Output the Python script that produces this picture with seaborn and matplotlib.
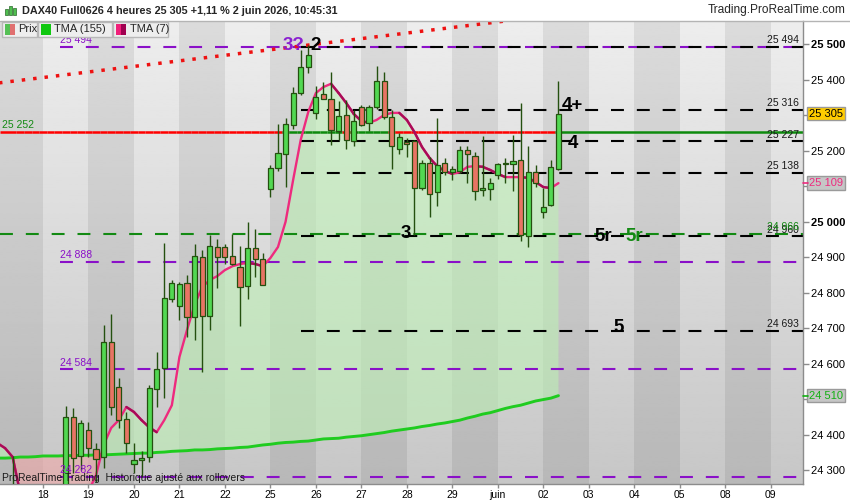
import numpy as np
import pandas as pd
import matplotlib.pyplot as plt
import seaborn as sns
from matplotlib.patches import Rectangle
from matplotlib.lines import Line2D
from matplotlib.transforms import blended_transform_factory

sns.set_theme(style="white")
plt.rcParams['font.family'] = ['Liberation Sans', 'DejaVu Sans']

# ---- data (4h candles, index 0 = first bar of the 18th) ----
day_labels = ["18", "19", "20", "21", "22", "25", "26", "27", "28", "29",
              "juin", "02", "03", "04", "05", "08", "09"]
bars_per_day = 6

candle_idx = list(range(-4, 69))
opens = [24200, 24230, 24160, 24190, 24210, 24230, 24200, 24230, 24450, 24340,
         24413, 24359, 24337, 24661, 24534, 24444, 24317, 24330, 24337, 24529,
         24588, 24782, 24763, 24827, 24732, 24901, 24735, 24929, 24929, 24904,
         24873, 24819, 24926, 24895, 25092, 25152, 25191, 25273, 25363, 25437,
         25307, 25360, 25346, 25256, 25301, 25228, 25324, 25279, 25324, 25397,
         25296, 25205, 25225, 25228, 25095, 25166, 25084, 25166, 25140, 25143,
         25203, 25186, 25090, 25092, 25132, 25163, 25163, 25174, 24960, 25140,
         25027, 25047, 25149]
highs = [24340, 24250, 24210, 24240, 24250, 24250, 24245, 24481, 24475, 24441,
         24435, 24376, 24709, 24740, 24560, 24464, 24376, 24354, 24540, 24633,
         24940, 24836, 24830, 24850, 24937, 24921, 24963, 24952, 24937, 24966,
         24932, 25000, 24980, 24912, 25160, 25276, 25293, 25380, 25484, 25499,
         25383, 25394, 25422, 25341, 25343, 25315, 25330, 25330, 25440, 25422,
         25315, 25250, 25236, 25230, 25174, 25183, 25293, 25180, 25157, 25214,
         25214, 25197, 25242, 25123, 25166, 25180, 25245, 25335, 25214, 25160,
         25095, 25174, 25397]
lows = [24170, 24140, 24100, 24150, 24170, 24180, 24160, 24200, 24292, 24300,
        24337, 24266, 24306, 24455, 24419, 24348, 24292, 24280, 24323, 24478,
        24503, 24774, 24723, 24675, 24667, 24577, 24695, 24813, 24881, 24878,
        24707, 24782, 24844, 24822, 25070, 25143, 25098, 25262, 25358, 25420,
        25290, 25346, 25217, 25231, 25205, 25214, 25270, 25256, 25318, 25290,
        25149, 25191, 25183, 24963, 25090, 25014, 25045, 25132, 25118, 25138,
        25109, 25061, 25073, 25061, 25121, 25109, 25087, 24946, 24929, 25098,
        25011, 25045, 25146]
closes = [24230, 24160, 24190, 24210, 24230, 24200, 24230, 24450, 24334, 24433,
          24362, 24331, 24661, 24478, 24441, 24376, 24328, 24333, 24532, 24585,
          24785, 24827, 24825, 24732, 24904, 24735, 24932, 24901, 24901, 24881,
          24816, 24926, 24895, 24822, 25152, 25194, 25276, 25363, 25437, 25470,
          25352, 25346, 25259, 25298, 25231, 25284, 25273, 25324, 25397, 25296,
          25214, 25239, 25220, 25095, 25166, 25078, 25160, 25140, 25149, 25203,
          25191, 25087, 25095, 25109, 25163, 25164, 25172, 24963, 25140, 25109,
          25041, 25155, 25305]

tma_idx = list(range(-6, 69))
tma7 = [24376, 24362, 24337, 24235, 24190, 24170, 24165, 24168, 24180, 24195,
        24210, 24225, 24240, 24286, 24371, 24419, 24441, 24478, 24464, 24441,
        24421, 24407, 24441, 24483, 24619, 24695, 24766, 24816, 24836, 24847,
        24864, 24875, 24881, 24884, 24881, 24875, 24898, 24929, 25000, 25118,
        25231, 25310, 25363, 25380, 25389, 25363, 25335, 25304, 25284, 25279,
        25287, 25301, 25307, 25307, 25287, 25253, 25211, 25180, 25157, 25143,
        25135, 25140, 25155, 25157, 25155, 25146, 25135, 25126, 25126, 25126,
        25124, 25112, 25098, 25095, 25109]
tma155 = [24334, 24334, 24335, 24337, 24337, 24338, 24340, 24340, 24340, 24341,
          24341, 24342, 24342, 24343, 24343, 24344, 24345, 24346, 24347, 24348,
          24348, 24350, 24351, 24353, 24354, 24355, 24357, 24357, 24358, 24360,
          24361, 24362, 24364, 24365, 24368, 24371, 24373, 24376, 24378, 24379,
          24381, 24382, 24385, 24388, 24389, 24390, 24393, 24395, 24397, 24400,
          24403, 24406, 24410, 24413, 24416, 24419, 24423, 24426, 24430, 24433,
          24437, 24441, 24447, 24452, 24458, 24462, 24468, 24474, 24479, 24483,
          24489, 24495, 24499, 24503, 24510]

purple_levels = [25494, 24888, 24584, 24282]
black_levels = [25494, 25316, 25227, 25138, 24960, 24693]
green_level = 24966
cross_level = 25252
trend_idx = [-6, 61]
trend_vals = [25391, 25566]

last_price = 25305
title = "DAX40 Full0626 4 heures 25 305 +1,11 % 2 juin 2026, 10:45:31"


def fmt(v):
    return f"{v:,}".replace(",", " ")


df = pd.DataFrame({"i": candle_idx, "open": opens, "high": highs,
                   "low": lows, "close": closes})
tma = pd.DataFrame({"i": tma_idx, "tma7": tma7, "tma155": tma155})

W, H = 850, 500
def fx(px):
    return px / W
def fy(py):
    return 1 - py / H

fig = plt.figure(figsize=(8.5, 5), dpi=100, facecolor="white")
ax = fig.add_axes([0, fy(484), fx(803), fy(21) - fy(484)])

xmin, xmax = -5.67, 100.26
ymin, ymax = 24261, 25566

# background: vertical gradient + alternating day bands
grad = np.linspace(0.78, 0.93, 256).reshape(-1, 1)
ax.imshow(grad, extent=[xmin, xmax, ymin, ymax], origin="lower", cmap="gray",
          vmin=0, vmax=1, aspect="auto", zorder=0)
for k in range(-1, len(day_labels)):
    if k % 2:
        ax.axvspan(k * bars_per_day, (k + 1) * bars_per_day, color="black",
                   alpha=0.075, lw=0, zorder=0.1)

# area between the two moving averages
t7 = tma["tma7"].to_numpy()
t155 = tma["tma155"].to_numpy()
ax.fill_between(tma["i"], t155, t7, where=t7 >= t155, interpolate=True,
                color="#bdf0b5", alpha=0.6, lw=0, zorder=1)
ax.fill_between(tma["i"], t155, t7, where=t7 < t155, interpolate=True,
                color="#f0a8a8", alpha=0.6, lw=0, zorder=1)

# horizontal levels
dash = (6.2, 6.2)
for lv in purple_levels:
    ax.plot([2.2, xmax], [lv, lv], color="#8a10c8", lw=1.5, dashes=dash, zorder=2)
for lv in black_levels:
    ax.plot([34, xmax], [lv, lv], color="black", lw=1.5, dashes=dash, zorder=2.1)
ax.plot([xmin, xmax], [green_level, green_level], color="#138a13", lw=1.5,
        dashes=dash, zorder=2)

# level line coloured by close above / below it
for n, (i, c) in enumerate(zip(df["i"], df["close"])):
    x0 = xmin if n == 0 else i - 0.5
    x1 = xmax if n == len(df) - 1 else i + 0.5
    col = "#0d8a0d" if c > cross_level else "#ff0000"
    ax.plot([x0, x1], [cross_level, cross_level], color=col, lw=1.8,
            solid_capstyle="butt", zorder=2.2)

# dotted trend line
ax.plot(trend_idx, trend_vals, color="#ee1111", lw=2.5, dashes=(1, 2.3),
        zorder=2.3)

# moving averages
sns.lineplot(data=tma, x="i", y="tma155", color="#1fcc1f", lw=2.1, ax=ax,
             zorder=3, legend=False)
sns.lineplot(data=tma, x="i", y="tma7", color="#ee2a7e", lw=1.7, ax=ax,
             zorder=3.1, legend=False)
for a in range(len(tma) - 1):
    if t7[a + 1] < t7[a]:
        ax.plot(tma["i"].iloc[a:a + 2], t7[a:a + 2], color="#a80c58", lw=1.7,
                zorder=3.2, solid_capstyle="round")

# candles
up = df["close"] >= df["open"]
edge = "#24500f"
ax.vlines(df["i"], df["low"], df["high"], color=edge, lw=1, zorder=4)
body_lo = np.minimum(df["open"], df["close"])
body_h = np.maximum(np.abs(df["close"] - df["open"]), 4)
ax.bar(df["i"], body_h, bottom=body_lo, width=0.68,
       color=np.where(up, "#52d852", "#e87464"), edgecolor=edge, lw=0.9,
       zorder=5)

ax.set_xlim(xmin, xmax)
ax.set_ylim(ymin, ymax)

# annotations on the chart
txt = dict(fontsize=13.5, fontweight="bold", ha="center", va="center", zorder=6)
ax.text(33.0, 25498, "3?", color="#8a1fd0", **txt)
ax.text(35.9, 25498, "2", color="black", **txt)
ax.text(69.9, 25327, "4+", color="black", **txt)
ax.text(69.9, 25222, "4", color="black", **txt)
ax.text(47.9, 24966, "3", color="black", **txt)
ax.text(73.9, 24960, "5r", color="black", **txt)
ax.text(78.0, 24960, "5r", color="#138a13", **txt)
ax.text(75.9, 24703, "5", color="black", **txt)

small = dict(fontsize=7.5, va="bottom", zorder=6)
for lv in black_levels:
    ax.annotate(fmt(lv), (97.6, lv), xytext=(0, 1), textcoords="offset points",
                ha="center", color="#1a1a1a", **small)
ax.annotate(fmt(green_level), (97.6, green_level), xytext=(0, 1),
            textcoords="offset points", ha="center", color="#138a13", **small)
for lv in purple_levels:
    ax.annotate(fmt(lv), (2.2, lv), xytext=(0, 1), textcoords="offset points",
                ha="left", color="#8a10c8", **small)
ax.annotate(fmt(cross_level), (-5.45, cross_level), xytext=(0, 1.5),
            textcoords="offset points", ha="left", color="#138a13", **small)

# price boxes on the right axis (they hide the tick label they sit on)
bt = blended_transform_factory(ax.transAxes, ax.transData)
boxes = [(last_price, "black", "#ffcc00"), (t7[-1], "#ee2a7e", "#c6c6c6"),
         (t155[-1], "#12b012", "#c6c6c6")]

# axes styling
sns.despine(ax=ax, left=True, top=True, right=False, bottom=False)
for s in ("right", "bottom"):
    ax.spines[s].set_color("#8c8c8c")
    ax.spines[s].set_linewidth(1)
ax.grid(False)
ax.set_xlabel("")
ax.set_ylabel("")
ax.yaxis.tick_right()
yt = list(range(24300, 25501, 100))
covered = [min(yt, key=lambda t: abs(t - b[0])) for b in boxes]
ax.set_yticks(yt, ["" if v in covered else fmt(v) for v in yt])
ax.set_xticks([k * bars_per_day for k in range(len(day_labels))], day_labels)
ax.tick_params(axis="y", right=True, left=False, length=4, width=1,
               color="#8c8c8c", pad=1.5, labelsize=8, labelcolor="black")
ax.tick_params(axis="x", bottom=True, length=3, width=1, color="#8c8c8c",
               pad=1.5, labelsize=7.5, labelcolor="black")
for lab in ax.get_yticklabels():
    if lab.get_text() in ("25 500", "25 000"):
        lab.set_fontweight("bold")

for val, tc, fc in boxes:
    ax.text(1.0075, val, fmt(int(val)), transform=bt, ha="left", va="center",
            fontsize=8, color=tc, clip_on=False, zorder=10,
            bbox=dict(boxstyle="square,pad=0.15", fc=fc, ec="#9a9a9a", lw=1))
ax.plot([xmax, xmax + 0.6], [t7[-1]] * 2, color="#ee2a7e", lw=1.2,
        clip_on=False, zorder=10)
ax.plot([xmax, xmax + 0.6], [t155[-1]] * 2, color="#12b012", lw=1.2,
        clip_on=False, zorder=10)

# title bar
fig.add_artist(Line2D([0, 1], [fy(20.5)] * 2, color="#b4b4b4", lw=1))
fig.text(fx(22), fy(10.5), title, fontsize=7.8, fontweight="bold", va="center")
fig.text(fx(846), fy(10.5), "Trading.ProRealTime.com", fontsize=8.6,
         ha="right", va="center")
for x, h in [(5, 6), (9, 9), (13, 7)]:
    fig.add_artist(Rectangle((fx(x), fy(15)), fx(3), h / H, facecolor="#4fbf4f",
                             edgecolor="#2a6a2a", lw=0.5))

# legend row
legend_items = [(2, 37, "Prix", ("#55c055", "#e07070")),
                (38, 112, "TMA (155)", ("#10c810", "#10c810")),
                (113, 168, "TMA (7)", ("#f0207a", "#a00050"))]
for x0, x1, label, (c1, c2) in legend_items:
    fig.add_artist(Rectangle((fx(x0), fy(37)), fx(x1 - x0), (37 - 22) / H,
                             facecolor="#eeeeee", edgecolor="#b8b8b8", lw=1,
                             zorder=8))
    fig.add_artist(Rectangle((fx(x0 + 3), fy(35)), fx(5), 11 / H,
                             facecolor=c1, edgecolor="none", zorder=9))
    fig.add_artist(Rectangle((fx(x0 + 8), fy(35)), fx(5), 11 / H,
                             facecolor=c2, edgecolor="none", zorder=9))
    fig.text(fx(x0 + 16.5), fy(29.5), label, fontsize=8, va="center", zorder=10)

fig.text(fx(2), fy(478), "ProRealTime Trading  Historique ajusté aux rollovers",
         fontsize=7.5, color="#1a1a1a", va="center", zorder=10)

fig.savefig("out.png", dpi=100, facecolor="white")
